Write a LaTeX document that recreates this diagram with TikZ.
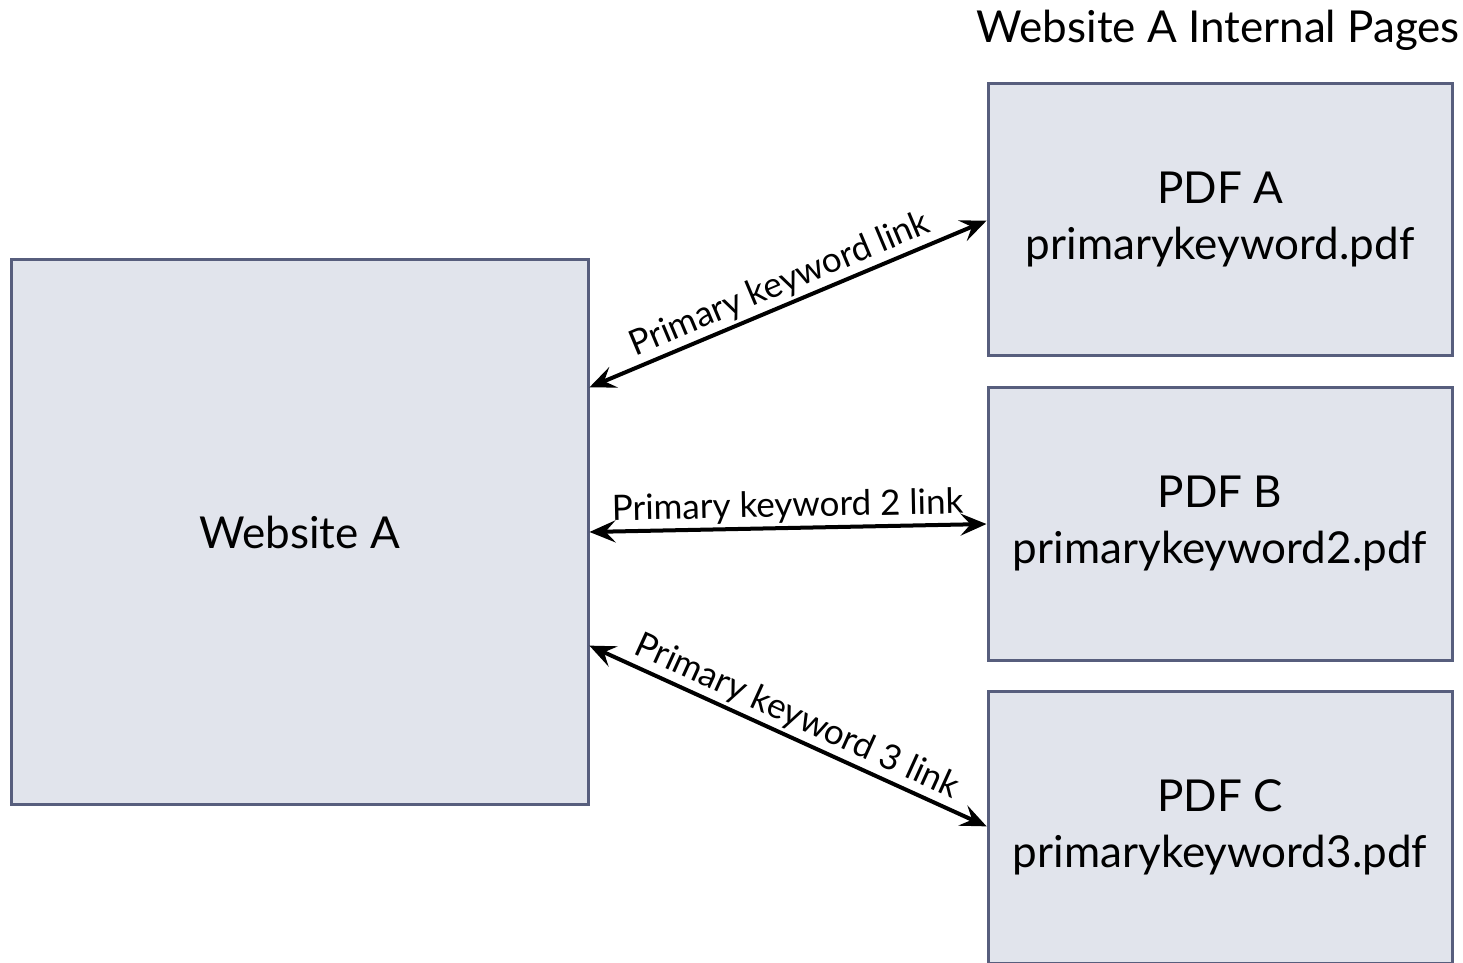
\documentclass[tikz,border=0pt]{standalone}
\usepackage{fontspec}
\setmainfont{Lato}
\usepackage{xcolor}
\usetikzlibrary{positioning,arrows.meta}

\definecolor{boxfill}{RGB}{225,228,236}
\definecolor{boxline}{RGB}{87,94,125}

\tikzset{
	pagebox/.style = {shape=rectangle, draw=boxline, fill=boxfill, line width=3pt,
		align=center, font=\fontsize{44}{56}\selectfont, inner sep=0pt, outer sep=0pt},
	linkarrow/.style = {{Stealth[length=26pt,width=22pt,inset=10pt]}-{Stealth[length=26pt,width=22pt,inset=10pt]}, line width=4pt, shorten <=1.5pt, shorten >=1.5pt},
	linklabel/.style = {font=\fontsize{35}{40}\selectfont, inner sep=3pt}}

\begin{document}
\begin{tikzpicture}[x=1pt, y=1pt]
	\useasboundingbox (0,0) rectangle (1463,962);
	\clip (0,0) rectangle (1463,962);

	\node[pagebox, minimum width=577pt, minimum height=544pt] (site) at (299.5,430) {Website A};
	\node[pagebox, minimum width=464pt, minimum height=272pt] (pdfa) at (1220,742)
		{PDF A\\primarykeyword.pdf};
	\node[pagebox, minimum width=464pt, minimum height=272pt, below=32pt of pdfa] (pdfb)
		{PDF B\\primarykeyword2.pdf};
	\node[pagebox, minimum width=464pt, minimum height=272pt, below=31pt of pdfb] (pdfc)
		{PDF C\\primarykeyword3.pdf};
	\node[font=\fontsize{44}{56}\selectfont, anchor=east, inner sep=0pt] (title) at (1460,932)
		{Website A Internal Pages};

	\coordinate (s1) at ([yshift=144pt]site.east);
	\coordinate (s2) at (site.east);
	\coordinate (s3) at ([yshift=-113pt]site.east);

	\draw[linkarrow] (s1) -- node[linklabel, sloped, above] {Primary keyword link} (pdfa.west);
	\draw[linkarrow] (s2) -- node[linklabel, sloped, above] {Primary keyword 2 link} (pdfb.west);
	\draw[linkarrow] (s3) -- node[linklabel, sloped, above] {Primary keyword 3 link} (pdfc.west);
\end{tikzpicture}
\end{document}
